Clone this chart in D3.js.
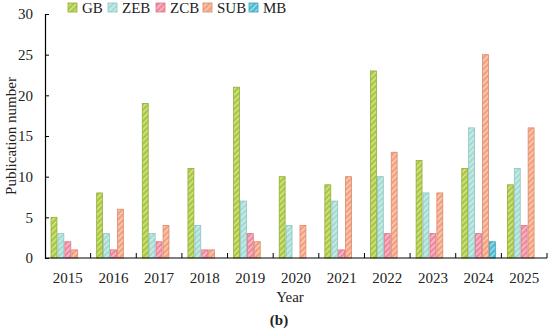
<!DOCTYPE html>
<html>
<head>
<meta charset="utf-8">
<script src="https://cdn.jsdelivr.net/npm/d3@7"></script>
<style>
  body { margin: 0; background: #fff; }
  svg text { font-family: "Liberation Serif", "Times New Roman", "DejaVu Serif", serif !important; }
</style>
</head>
<body>
<svg width="550" height="330"></svg>
<script>
// data
const years = ["2015", "2016", "2017", "2018", "2019", "2020", "2021", "2022", "2023", "2024", "2025"];
const seriesNames = ["GB", "ZEB", "ZCB", "SUB", "MB"];
const gb  = [5, 8, 19, 11, 21, 10, 9, 23, 12, 11, 9];
const zeb = [3, 3, 3, 4, 7, 4, 7, 10, 8, 16, 11];
const zcb = [2, 1, 2, 1, 3, 0, 1, 3, 3, 3, 4];
const sub = [1, 6, 4, 1, 2, 4, 10, 13, 8, 25, 16];
const mb  = [0, 0, 0, 0, 0, 0, 0, 0, 0, 2, 0];
const yTicks = [0, 5, 10, 15, 20, 25, 30];

const values = [gb, zeb, zcb, sub, mb];
const fills = ["#a9c93c", "#a3dbd5", "#f3879e", "#f5a07d", "#47bcd3"];
const strokes = ["#93ad33", "#8fc3bd", "#d7788b", "#d68b6c", "#3aa2b6"];

var svg = d3.select("svg");
const plotLeft = 45, plotRight = 547, plotTop = 14, plotBottom = 258;

var x = d3.scaleBand().domain(years).range([plotLeft, plotRight]);
var xi = d3.scaleBand().domain(seriesNames).range([0, x.bandwidth()]).paddingOuter(0.8);
var y = d3.scaleLinear().domain([0, 30]).range([plotBottom, plotTop]);

// hatch patterns ("/" stripes)
var defs = svg.append("defs");
seriesNames.forEach(function (s, i) {
    var p = defs.append("pattern")
        .attr("id", "hatch" + i)
        .attr("patternUnits", "userSpaceOnUse")
        .attr("width", 4)
        .attr("height", 4)
        .attr("patternTransform", "rotate(45)");
    p.append("rect").attr("width", 4).attr("height", 4).attr("fill", fills[i]);
    p.append("rect").attr("x", 0).attr("width", 1.3).attr("height", 4).attr("fill", "#ffffff").attr("opacity", 0.55);
});

// bars
seriesNames.forEach(function (s, i) {
    svg.append("g")
        .selectAll("rect")
        .data(values[i].map(function (v, j) { return { year: years[j], v: v }; }).filter(function (d) { return d.v > 0; }))
        .enter()
        .append("rect")
        .attr("x", function (d) { return x(d.year) + xi(s) + 0.5; })
        .attr("y", function (d) { return y(d.v); })
        .attr("width", xi.bandwidth() - 1)
        .attr("height", function (d) { return y(0) - y(d.v); })
        .attr("fill", "url(#hatch" + i + ")")
        .attr("stroke", strokes[i])
        .attr("stroke-width", 0.8);
});

// y axis
var yAxis = svg.append("g")
    .attr("transform", "translate(" + plotLeft + ",0)")
    .call(d3.axisLeft(y).tickValues(yTicks).tickSize(-4).tickPadding(12));
yAxis.select(".domain").attr("stroke", "#000").attr("stroke-width", 1.2);
yAxis.selectAll("text").style("font-size", "15px").attr("fill", "#222");

// x axis
var xAxisG = svg.append("g").attr("transform", "translate(0," + plotBottom + ")");
xAxisG.append("line")
    .attr("x1", plotLeft).attr("x2", plotRight)
    .attr("stroke", "#000").attr("stroke-width", 1.2);
xAxisG.selectAll(".tick")
    .data(years)
    .enter()
    .append("line")
    .attr("x1", function (d) { return x(d) + x.bandwidth(); })
    .attr("x2", function (d) { return x(d) + x.bandwidth(); })
    .attr("y1", 0).attr("y2", -5)
    .attr("stroke", "#000");
xAxisG.selectAll(".lbl")
    .data(years)
    .enter()
    .append("text")
    .attr("x", function (d) { return x(d) + x.bandwidth() / 2; })
    .attr("y", 25)
    .attr("text-anchor", "middle")
    .style("font-size", "15px")
    .attr("fill", "#222")
    .text(function (d) { return d; });

// labels
svg.append("text")
    .attr("x", 290).attr("y", 302)
    .attr("text-anchor", "middle")
    .style("font-size", "15px")
    .attr("fill", "#222")
    .text("Year");

svg.append("text")
    .attr("text-anchor", "middle")
    .attr("transform", "translate(16," + 136 + ")rotate(-90)")
    .style("font-size", "15px")
    .attr("fill", "#222")
    .text("Publication number");

svg.append("text")
    .attr("x", 279).attr("y", 325)
    .attr("text-anchor", "middle")
    .style("font-size", "15px")
    .style("font-weight", "bold")
    .attr("fill", "#222")
    .text("(b)");

// legend
const legendX = [68, 108, 156, 203, 249];
var legend = svg.append("g");
seriesNames.forEach(function (s, i) {
    legend.append("rect")
        .attr("x", legendX[i]).attr("y", 3)
        .attr("width", 9).attr("height", 9)
        .attr("fill", "url(#hatch" + i + ")")
        .attr("stroke", strokes[i])
        .attr("stroke-width", 0.8);
    legend.append("text")
        .attr("x", legendX[i] + 14).attr("y", 13)
        .style("font-size", "15px")
        .attr("fill", "#222")
        .text(s);
});
</script>
</body>
</html>
